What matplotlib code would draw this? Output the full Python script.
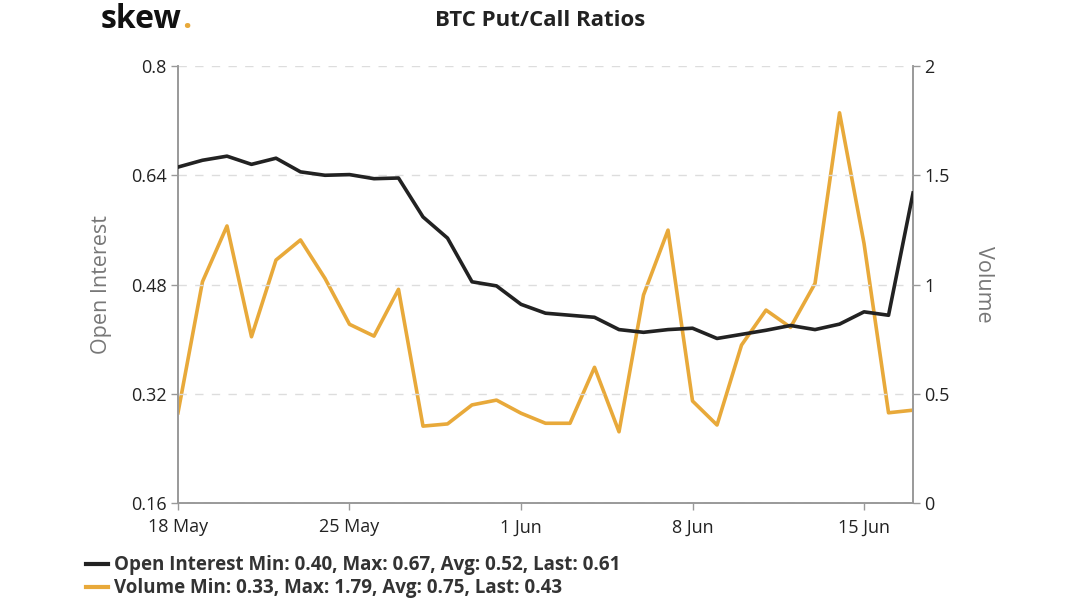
import matplotlib
matplotlib.use("Agg")
import matplotlib.pyplot as plt
import numpy as np
import pandas as pd
from matplotlib.lines import Line2D

dates = pd.date_range("2020-05-18", "2020-06-17", freq="D")
open_interest = [0.652, 0.662, 0.668, 0.656, 0.665, 0.645, 0.640, 0.641, 0.635, 0.636,
                 0.579, 0.548, 0.484, 0.478, 0.451, 0.438, 0.435, 0.432, 0.414, 0.410,
                 0.414, 0.416, 0.401, 0.407, 0.413, 0.420, 0.414, 0.422, 0.440, 0.435,
                 0.614]
volume = [0.413, 1.013, 1.268, 0.761, 1.112, 1.204, 1.028, 0.818, 0.764, 0.978,
          0.352, 0.362, 0.449, 0.471, 0.411, 0.365, 0.365, 0.621, 0.326, 0.952,
          1.249, 0.467, 0.357, 0.723, 0.883, 0.804, 1.005, 1.786, 1.188, 0.413,
          0.425]
left_ticks = [0.16, 0.32, 0.48, 0.64, 0.8]
left_labels = ["0.16", "0.32", "0.48", "0.64", "0.8"]
right_ticks = [0, 0.5, 1, 1.5, 2]
right_labels = ["0", "0.5", "1", "1.5", "2"]
xtick_dates = pd.to_datetime(["2020-05-18", "2020-05-25", "2020-06-01", "2020-06-08", "2020-06-15"])
xtick_labels = ["18 May", "25 May", "1 Jun", "8 Jun", "15 Jun"]
title = "BTC Put/Call Ratios"
legend_labels = ["Open Interest Min: 0.40, Max: 0.67, Avg: 0.52, Last: 0.61",
                 "Volume Min: 0.33, Max: 1.79, Avg: 0.75, Last: 0.43"]

plt.rcParams['font.family'] = ['Open Sans', 'DejaVu Sans']

BLACK = "#222222"
GOLD = "#E8A93A"
SPINE = "#999999"
TEXT = "#222222"
LABEL = "#777777"

fig = plt.figure(figsize=(10.8, 6.03), dpi=100)
ax = fig.add_axes([0.1648, 0.1658, 0.8454 - 0.1648, 0.8905 - 0.1658])
ax2 = ax.twinx()

ax.set_zorder(ax2.get_zorder() + 1)
ax.patch.set_visible(False)

ax.plot(dates, open_interest, color=BLACK, lw=2.6, zorder=3)
ax2.plot(dates, volume, color=GOLD, lw=2.6, zorder=2)

ax.set_xlim(dates[0], dates[-1])
ax.set_ylim(0.16, 0.8)
ax2.set_ylim(0, 2)

ax.set_yticks(left_ticks)
ax.set_yticklabels(left_labels)
ax2.set_yticks(right_ticks)
ax2.set_yticklabels(right_labels)
ax.set_xticks(xtick_dates)
ax.set_xticklabels(xtick_labels)

for a in (ax, ax2):
    for s in a.spines.values():
        s.set_color(SPINE)
        s.set_linewidth(1.2)
    a.spines['top'].set_visible(False)
    a.tick_params(colors=SPINE, labelcolor=TEXT, labelsize=13, length=5, width=1)

ax.tick_params(axis='x', pad=6)
ax.tick_params(axis='y', pad=3)
ax2.tick_params(axis='y', pad=3)

ax.yaxis.grid(True, color="#dddddd", linestyle=(0, (6, 6)), lw=1)
ax.set_axisbelow(True)

ax.set_ylabel("Open Interest", fontsize=15.5, color=LABEL, labelpad=14)
ax2.set_ylabel("Volume", fontsize=15.5, color=LABEL, rotation=270, labelpad=32)

fig.text(0.5, 1 - 20 / 603, title, ha='center', va='center', fontsize=16, fontweight='bold', color=TEXT)
logo = fig.text(0.093, 1 - 28 / 603, "skew", ha='left', va='baseline', fontsize=23,
                fontweight='bold', color="#111111")
fig.canvas.draw()
bb = logo.get_window_extent()
fig.text((bb.x1 + 1) / fig.bbox.width, 1 - 28 / 603, ".", ha='left', va='baseline',
         fontsize=23, fontweight='bold', color=GOLD)

handles = [Line2D([0], [0], color=BLACK, lw=3), Line2D([0], [0], color=GOLD, lw=3)]
leg = fig.legend(handles, legend_labels, loc='lower left', bbox_to_anchor=(0.064, -0.02),
                 frameon=False, handlelength=1.2, handletextpad=0.3, labelspacing=0.15,
                 prop={'weight': 'bold', 'size': 13.5})
for t in leg.get_texts():
    t.set_color("#333333")

fig.savefig("out.png", dpi=100)
